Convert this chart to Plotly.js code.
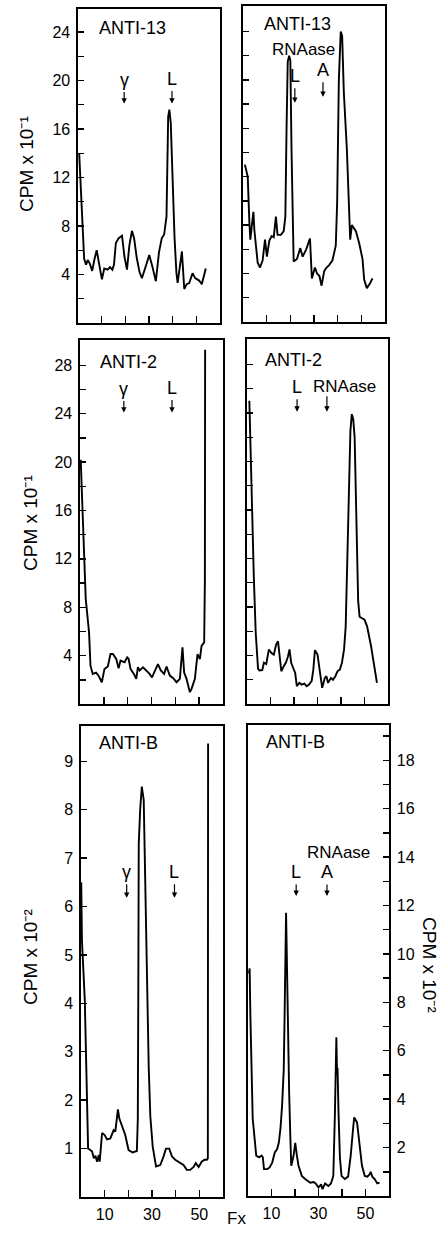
<!DOCTYPE html>
<html><head><meta charset="utf-8">
<script src="https://cdn.plot.ly/plotly-3.0.1.min.js"></script>
<style>html,body{margin:0;padding:0;background:#fff}#chart{width:447px;height:1247px}</style>
</head><body><div id="chart"></div>
<script>
// ---------- DATA (fraction number vs CPM) ----------
// Row 1 left: ANTI-13 (CPM x 10^-1)
const anti13AX = [0.5,1.3,2.6,3.4,4.1,5.0,6.0,7.0,7.9,9.0,10.1,11.1,12.5,13.5,14.5,15.2,16.0,17.2,18.6,19.6,20.7,21.7,22.8,23.7,24.8,26.0,27.0,28.5,30.1,31.5,32.9,34.2,35.4,36.4,37.4,38.1,38.6,39.2,40.0,40.8,41.6,42.1,43.9,44.9,45.9,47.0,48.4,49.5,51.2,52.3,54.0];
const anti13AY = [14.0,10.2,5.3,4.8,5.2,4.9,4.3,5.3,6.0,4.8,3.6,4.5,4.4,4.6,4.4,4.8,6.6,7.0,7.2,5.5,4.4,6.4,7.6,7.0,5.4,4.2,3.7,4.6,5.6,4.6,3.45,5.8,7.0,7.3,8.8,17.0,17.6,16.5,11.5,7.0,4.1,3.3,5.9,2.8,3.2,3.3,4.1,3.7,3.5,3.2,4.5];
// Row 1 right: ANTI-13 + RNAase A
const anti13BX = [0.8,2.0,2.7,3.1,3.7,4.4,4.8,5.5,6.2,7.2,8.3,9.3,10.1,11.1,12.1,13.0,13.9,14.6,16.0,17.2,17.9,18.4,18.9,19.5,20.0,20.5,21.4,22.8,24.2,25.2,26.7,28.3,29.1,30.4,31.3,32.3,33.2,34.3,35.3,36.4,37.8,39.2,39.8,40.5,41.3,41.9,42.6,43.9,44.9,45.3,46.0,47.7,49.1,50.5,51.2,52.3,53.7,54.7];
const anti13BY = [13.0,12.0,8.2,6.8,7.9,9.1,7.6,6.3,4.9,4.5,5.1,6.8,5.4,6.7,7.1,7.0,8.7,7.2,7.2,7.5,8.7,16.0,21.5,22.0,21.6,14.2,5.0,5.2,6.1,5.4,6.0,6.9,3.6,4.5,4.0,3.8,3.0,4.2,4.5,4.7,5.1,6.3,10.0,20.0,24.0,23.6,19.0,14.2,7.6,6.8,8.0,7.5,6.5,5.2,3.5,2.8,3.2,3.6];
// Row 2 left: ANTI-2
const anti2AX = [0.3,1.3,2.4,3.8,4.4,5.35,6.75,7.74,9.15,10.27,11.67,12.8,13.8,15.2,16.2,17.0,18.7,19.8,20.4,21.2,22.6,23.6,24.3,25.0,26.4,27.8,29.2,30.2,31.6,32.7,33.9,35.3,36.3,37.7,39.1,40.5,41.9,43.0,43.7,44.7,46.1,46.8,48.2,49.3,50.3,51.0,52.1,52.4,52.5];
const anti2AY = [20.2,14.2,8.7,5.9,3.17,2.49,2.6,2.35,1.8,2.9,3.1,4.13,4.13,3.72,2.96,3.59,3.45,3.86,3.72,2.9,2.49,2.08,3.04,2.77,3.04,2.77,2.49,2.2,2.77,3.3,2.77,2.49,3.1,2.35,2.13,1.8,2.08,4.69,2.6,2.08,0.98,1.25,2.08,4.13,3.72,4.8,5.1,10.3,29.3];
// Row 2 right: ANTI-2 + RNAase
const anti2BX = [1.0,1.6,2.2,2.9,3.7,4.7,5.3,6.5,7.2,8.2,9.3,10.4,11.4,12.4,13.2,13.8,14.6,15.6,16.6,17.4,18.1,18.8,19.8,20.5,21.2,22.3,23.3,24.4,25.4,26.4,27.5,28.2,28.9,30.0,31.0,32.0,33.1,33.8,34.5,35.7,36.6,37.6,38.5,39.5,40.4,41.3,42.0,42.6,43.2,44.0,44.6,45.2,45.8,46.5,47.3,47.9,50.0,51.1,52.8,55.3];
const anti2BY = [25.0,20.0,15.0,10.5,5.9,2.9,2.77,2.8,3.4,3.3,4.5,4.2,4.07,4.9,5.17,4.2,2.7,3.1,3.44,3.9,4.5,3.4,2.97,2.56,1.47,1.74,1.6,1.68,1.47,1.6,1.88,2.79,4.44,4.07,2.7,1.33,2.15,2.29,1.74,2.15,2.0,2.29,2.7,2.84,3.4,4.5,6.4,12.0,18.0,22.5,23.9,23.5,22.0,16.0,8.5,7.2,6.95,6.4,4.76,1.74];
// Row 3 left: ANTI-B (CPM x 10^-2, left scale)
const antiBAX = [0.1,0.4,1.6,2.1,2.5,3.0,3.9,4.7,5.4,6.1,6.8,7.5,7.9,8.9,10.0,11.0,12.4,13.1,13.8,14.5,15.6,16.2,17.3,18.7,20.1,21.8,23.6,24.0,24.2,24.4,25.0,25.7,26.5,27.2,27.8,28.6,29.3,30.3,31.7,33.5,34.9,35.9,37.3,38.4,39.8,41.2,43.3,44.7,46.1,47.6,48.5,49.7,51.0,52.2,53.2,53.6,53.7];
const antiBAY = [6.5,5.3,4.07,2.77,2.42,1.0,0.97,0.94,0.8,0.85,0.73,0.87,0.73,1.32,1.28,1.19,1.21,1.32,1.38,1.35,1.81,1.62,1.45,1.28,0.97,0.92,0.95,1.6,4.0,7.3,8.0,8.48,8.2,6.1,4.4,2.7,1.66,1.04,0.63,0.66,0.84,1.0,1.0,0.84,0.77,0.73,0.66,0.56,0.56,0.62,0.7,0.62,0.73,0.77,0.77,0.8,9.37];
// Row 3 right: ANTI-B + RNAase A (CPM x 10^-2, right scale)
const antiBBX = [0.4,0.7,1.0,1.4,2.0,3.5,4.7,5.8,6.3,6.8,8.2,9.2,10.3,11.4,12.4,13.1,13.8,14.5,15.2,15.6,16.0,16.2,16.5,16.9,17.5,18.0,18.4,19.4,20.1,20.8,21.5,22.9,24.3,26.5,27.9,28.8,30.0,31.1,31.7,32.8,34.2,35.3,36.3,37.0,37.4,37.6,37.9,38.1,38.5,39.1,39.8,41.2,42.6,43.7,44.7,45.2,46.4,47.5,48.5,49.7,50.8,51.8,52.2,52.9,53.9,55.0,56.0];
const antiBBY = [9.2,9.4,7.5,5.0,3.2,1.67,1.6,1.67,1.6,1.11,1.11,1.18,1.38,1.8,1.94,2.2,2.77,3.73,5.2,7.6,10.5,11.7,10.0,6.8,4.3,2.5,1.25,1.67,2.2,1.67,1.25,0.83,0.7,0.55,0.58,0.52,0.35,0.48,0.28,0.52,0.41,0.52,0.83,3.46,6.0,6.56,5.0,5.3,3.5,1.6,0.83,0.7,0.8,1.67,2.77,3.25,3.04,2.08,1.25,0.83,0.8,0.9,1.0,0.8,0.7,0.52,0.55];

// Tick values (labelled majors, unlabelled minors)
const xMajor = [10,30,50];
const xMinor = [20,40];
const xAll = [10,20,30,40,50];
const y13Major = [4,8,12,16,20,24];
const y13Minor = [2,6,10,14,18,22];
const y13All = [2,4,6,8,10,12,14,16,18,20,22,24];
const y2Major = [4,8,12,16,20,24,28];
const y2Minor = [2,6,10,14,18,22,26];
const y2All = [2,4,6,8,10,12,14,16,18,20,22,24,26,28];
const yBLeft = [1,2,3,4,5,6,7,8,9];
const yBRightMajor = [2,4,6,8,10,12,14,16,18];
const yBRightMinor = [1,3,5,7,9,11,13,15,17,19];
const panelTitles = ['ANTI-13','ANTI-13','ANTI-2','ANTI-2','ANTI-B','ANTI-B'];
const yTitleTop = 'CPM x 10\u207B\u00B9';
const yTitleBottom = 'CPM x 10\u207B\u00B2';
const xTitle = 'Fx';

// ---------- LAYOUT ----------
const W = 447, H = 1247;
const FONT = '"Liberation Sans", Arial, Helvetica, sans-serif';
const K = 'black';
const dX = (a,b) => [a/W, b/W];
const dY = (top,bot) => [1-bot/H, 1-top/H];
const tickStyle = {ticks: 'inside', tickwidth: 1.4, tickcolor: K};

function base(dom, anchor, range) {
  return {domain: dom, anchor: anchor, range: range, showline: true, mirror: true,
    linecolor: K, linewidth: 1.6, showgrid: false, zeroline: false,
    tickfont: {family: FONT, size: 16, color: K}};
}
function xAxis(dom, anchor, labeled) {
  const a = base(dom, anchor, [0,60]);
  Object.assign(a, tickStyle, {ticklen: 7, tickmode: 'array'});
  if (labeled) {
    a.tickvals = xMajor; a.ticktext = xMajor.map(String); a.ticklabelstandoff = 2;
    a.minor = Object.assign({}, tickStyle, {ticklen: 7, tickmode: 'array', tickvals: xMinor});
  } else {
    a.tickvals = xAll; a.showticklabels = false;
  }
  return a;
}
function yAxis(dom, anchor, range, major, minor, side) {
  const a = base(dom, anchor, range);
  Object.assign(a, tickStyle, {ticklen: 6, tickmode: 'array', tickvals: major,
    ticktext: major.map(String), side: side || 'left', ticklabelstandoff: 3});
  if (minor) a.minor = Object.assign({}, tickStyle, {ticklen: 6, tickmode: 'array', tickvals: minor});
  return a;
}
function yAxisBare(dom, anchor, range, vals) {
  const a = base(dom, anchor, range);
  Object.assign(a, tickStyle, {ticklen: 6, tickmode: 'array', tickvals: vals, showticklabels: false});
  return a;
}

const line = {color: K, width: 1.9};
const series = [
  [anti13AX, anti13AY, 'x', 'y'],
  [anti13BX, anti13BY, 'x2', 'y2'],
  [anti2AX, anti2AY, 'x3', 'y3'],
  [anti2BX, anti2BY, 'x4', 'y4'],
  [antiBAX, antiBAY, 'x5', 'y5'],
  [antiBBX, antiBBY, 'x6', 'y6']
];
const data = series.map((s, i) => ({x: s[0], y: s[1], xaxis: s[2], yaxis: s[3],
  type: 'scatter', mode: 'lines', line: line, name: panelTitles[i], showlegend: false, hoverinfo: 'skip'}));

const layout = {
  width: W, height: H, margin: {l: 0, r: 0, t: 0, b: 0},
  paper_bgcolor: 'white', plot_bgcolor: 'white', showlegend: false,
  font: {family: FONT, color: K},
  xaxis:  xAxis(dX(78, 220), 'y', false),
  yaxis:  yAxis(dY(9, 323), 'x', [0, 25.9], y13Major, y13Minor),
  xaxis2: xAxis(dX(243, 385), 'y2', false),
  yaxis2: yAxisBare(dY(6, 322), 'x2', [0, 26.1], y13All),
  xaxis3: xAxis(dX(80, 223), 'y3', false),
  yaxis3: yAxis(dY(340, 704), 'x3', [0, 30.1], y2Major, y2Minor),
  xaxis4: xAxis(dX(247, 388), 'y4', false),
  yaxis4: yAxisBare(dY(339, 704), 'x4', [0, 30.1], y2All),
  xaxis5: xAxis(dX(81, 223), 'y5', true),
  yaxis5: yAxis(dY(726, 1197), 'x5', [0, 9.73], yBLeft, null),
  xaxis6: xAxis(dX(248, 389), 'y6', true),
  yaxis6: yAxis(dY(725, 1196), 'x6', [0, 19.46], yBRightMajor, yBRightMinor, 'right'),
  annotations: []
};

const A = layout.annotations;
function txt(xr, yr, x, y, text, size, xanchor) {
  A.push({xref: xr, yref: yr, x: x, y: y, text: text, showarrow: false,
    xanchor: xanchor || 'center', yanchor: 'middle', font: {family: FONT, size: size, color: K}});
}
function arrowLabel(xr, yr, x, y, text, ay) {
  A.push({xref: xr, yref: yr, x: x, y: y, text: text, showarrow: true, ax: 0, ay: ay,
    arrowhead: 2, arrowsize: 0.9, arrowwidth: 1.2, arrowcolor: K, standoff: 0, startstandoff: 1,
    font: {family: FONT, size: 18, color: K}});
}
// panel titles
txt('x', 'y', 8.0, 24.3, panelTitles[0], 18, 'left');
txt('x2', 'y2', 8.0, 24.6, panelTitles[1], 18, 'left');
txt('x3', 'y3', 7.5, 28.3, panelTitles[2], 18, 'left');
txt('x4', 'y4', 6.6, 28.4, panelTitles[3], 18, 'left');
txt('x5', 'y5', 6.6, 9.38, panelTitles[4], 18, 'left');
txt('x6', 'y6', 7.0, 18.76, panelTitles[5], 18, 'left');
// markers
arrowLabel('x', 'y', 19.5, 18.1, 'γ', -24);
arrowLabel('x', 'y', 39.7, 18.1, 'L', -25);
arrowLabel('x2', 'y2', 21.9, 18.1, 'L', -27);
arrowLabel('x2', 'y2', 33.8, 18.6, 'A', -27);
txt('x2', 'y2', 25.5, 22.5, 'RNAase', 17);
arrowLabel('x3', 'y3', 18.4, 24.1, 'γ', -24);
arrowLabel('x3', 'y3', 38.6, 24.1, 'L', -25);
arrowLabel('x4', 'y4', 21.3, 24.1, 'L', -25);
txt('x4', 'y4', 41.6, 26.2, 'RNAase', 17);
A.push({xref: 'x4', yref: 'y4', x: 34.0, y: 24.1, text: '', showarrow: true, ax: 0, ay: -17,
  arrowhead: 2, arrowsize: 0.9, arrowwidth: 1.2, arrowcolor: K});
arrowLabel('x5', 'y5', 19.3, 6.18, 'γ', -26);
arrowLabel('x5', 'y5', 39.5, 6.18, 'L', -26);
arrowLabel('x6', 'y6', 20.5, 12.4, 'L', -24);
arrowLabel('x6', 'y6', 33.6, 12.4, 'A', -24);
txt('x6', 'y6', 38.7, 14.2, 'RNAase', 17);
// axis titles
function vTitle(xpx, ypx, text, angle) {
  A.push({xref: 'paper', yref: 'paper', x: xpx/W, y: 1-ypx/H, text: text, textangle: angle,
    xanchor: 'center', yanchor: 'middle', showarrow: false, font: {family: FONT, size: 19, color: K}});
}
vTitle(27, 164, yTitleTop, -90);
vTitle(30, 523, yTitleTop, -90);
vTitle(30, 957, yTitleBottom, -90);
vTitle(430, 965, yTitleBottom, 90);
A.push({xref: 'paper', yref: 'paper', x: 236/W, y: 1-1230/H, text: xTitle, showarrow: false,
  font: {family: FONT, size: 17, color: K}});

Plotly.newPlot('chart', data, layout, {staticPlot: true, displayModeBar: false});
</script>
</body></html>
